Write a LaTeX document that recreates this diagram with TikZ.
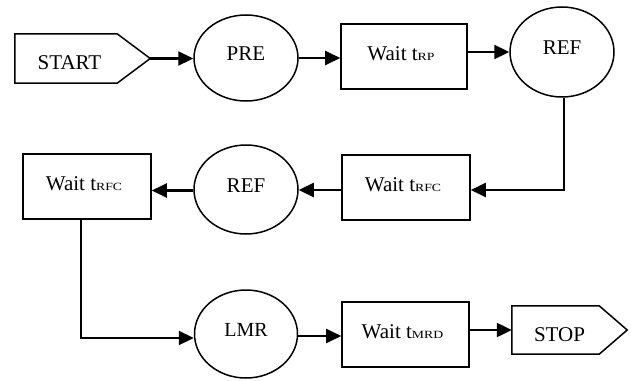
\documentclass[tikz,border=0pt]{standalone}
\usepackage{fontspec}
\setmainfont{Liberation Serif}
\usetikzlibrary{arrows.meta,shapes.geometric}

% subscript set as small wide capitals on the baseline
\newcommand{\subsc}[1]{{\fontsize{11}{11}\selectfont\scalebox{1.25}[1]{#1}}}

\tikzset{
  every node/.style={font=\fontsize{21}{25}\selectfont},
  statebox/.style={draw, line width=1.6pt, minimum width=128pt, minimum height=65pt, inner sep=0pt},
  cmdoval/.style={draw, ellipse, line width=1.5pt, minimum width=104pt, minimum height=88pt, inner sep=0pt},
  flagshape/.style={inner sep=0pt},
  flagline/.style={line width=1.5pt, line join=miter},
  flow/.style={line width=2.3pt, -{Triangle[length=15pt,width=14pt]}},
  boxtext/.style={label={[xshift=-3pt,yshift=3pt]center:#1}},
  ovaltext/.style={label={[yshift=4pt]center:#1}},
}

\begin{document}
\begin{tikzpicture}[x=1pt,y=-1pt]
  \useasboundingbox (0,0) rectangle (631,380);

  % start and stop flags
  \node[flagshape, minimum width=135pt, minimum height=49pt] (start) at (82.5,58.5) {};
  \draw[flagline] (start.north west) -- ([xshift=-33pt]start.north east) -- (start.east)
    -- ([xshift=-33pt]start.south east) -- (start.south west) -- cycle;
  \node at ([xshift=-13pt,yshift=-4pt]start.center) {START};

  \node[flagshape, minimum width=115pt, minimum height=48pt] (stop) at (569.5,330) {};
  \draw[flagline] (stop.north west) -- ([xshift=-28pt]stop.north east) -- (stop.east)
    -- ([xshift=-28pt]stop.south east) -- (stop.south west) -- cycle;
  \node at ([xshift=-10pt,yshift=-5pt]stop.center) {STOP};

  % commands
  \node[cmdoval, minimum height=86pt, ovaltext=PRE] (pre) at (246,58) {};
  \node[cmdoval, minimum height=90pt, ovaltext=REF] (ref1) at (562,52) {};
  \node[cmdoval, minimum height=89pt, ovaltext=REF] (ref2) at (246,189.5) {};
  \node[cmdoval, minimum width=103pt, ovaltext={\fontsize{20}{24}\selectfont LMR}] (lmr) at (246,334) {};

  % waiting states
  \node[statebox, minimum width=126pt, boxtext={Wait t\subsc{RP}}] (wrp) at (404,56.5) {};
  \node[statebox, boxtext={Wait t\subsc{RFC}}] (wrfc1) at (406,187.5) {};
  \node[statebox, boxtext={Wait t\subsc{RFC}}] (wrfc2) at (87,186.5) {};
  \node[statebox, minimum width=127pt, boxtext={Wait t\subsc{MRD}}] (wmrd) at (405.5,334.5) {};

  % connectors
  \draw[flow] (start.east) -- (start.east -| pre.west);
  \draw[flow] (pre.east) -- (pre.east -| wrp.west);
  \draw[flow] (ref1.west -| wrp.east) -- (ref1.west);
  \draw[flow] ([xshift=2pt]ref1.south) |- ([yshift=-2.5pt]wrfc1.east);
  \draw[flow] ([yshift=-2.5pt]wrfc1.west) -- ([yshift=-2.5pt]wrfc1.west -| ref2.east);
  \draw[flow] ([yshift=-1pt]ref2.west) -- ([yshift=-1pt]ref2.west -| wrfc2.east);
  \draw[flow] ([xshift=-6pt]wrfc2.south) |- ([yshift=-4pt]lmr.west);
  \draw[flow] ([yshift=-2pt]lmr.east) -- ([yshift=-2pt]lmr.east -| wmrd.west);
  \draw[flow] (stop.west -| wmrd.east) -- (stop.west);
\end{tikzpicture}
\end{document}
